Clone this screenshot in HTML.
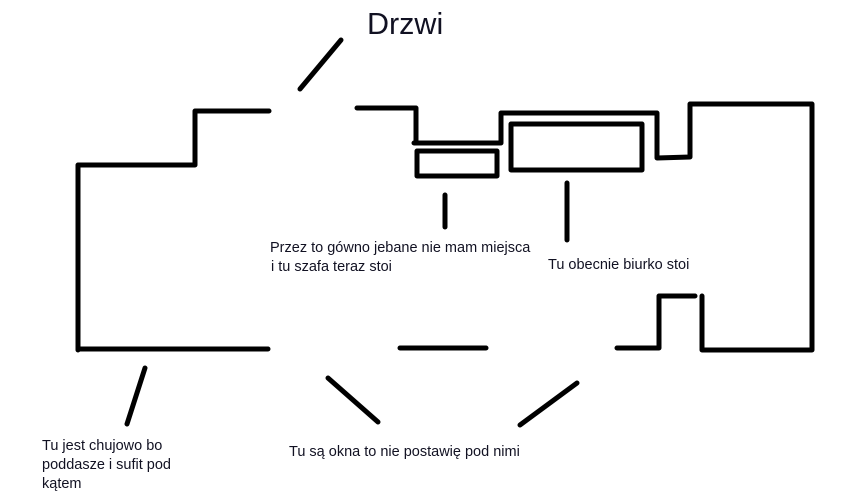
<!DOCTYPE html>
<html><head><meta charset="utf-8"><style>
body{margin:0;background:#fff;width:867px;height:500px;overflow:hidden}
svg{position:absolute;left:0;top:0}
text{font-family:"Liberation Sans",sans-serif;fill:#111122}
</style></head><body>
<svg width="867" height="500" viewBox="0 0 867 500">
<g stroke="#000" stroke-width="5" fill="none" stroke-linecap="round" stroke-linejoin="round">
<polyline points="78,350 78,165 195,165 195,111 269,111"/>
<polyline points="357,108 416,108 416,143 414,143 500,143"/>
<polyline points="501,143 501,113 657,113 657,158 690,157 690,104 812,104 812,350 702,350 702,296"/>
<polyline points="695,296 659,296 659,348 617,348"/>
<rect x="417" y="151" width="80" height="25"/>
<rect x="511" y="124" width="131" height="46"/>
<line x1="445" y1="195" x2="445" y2="227"/>
<line x1="567" y1="183" x2="567" y2="240"/>
<line x1="78" y1="349" x2="268" y2="349"/>
<line x1="400" y1="348" x2="486" y2="348"/>
<line x1="300" y1="89" x2="341" y2="40"/>
<line x1="145" y1="368" x2="127" y2="424"/>
<line x1="328" y1="378" x2="378" y2="422"/>
<line x1="577" y1="383" x2="520" y2="425"/>
</g>
<text x="367" y="34" font-size="30.5">Drzwi</text>
<text font-size="14.5"><tspan x="270" y="252">Przez to gówno jebane nie mam miejsca</tspan><tspan x="271" y="271">i tu szafa teraz stoi</tspan></text>
<text x="548" y="269" font-size="14.5">Tu obecnie biurko stoi</text>
<text font-size="14.5"><tspan x="42" y="450">Tu jest chujowo bo</tspan><tspan x="42" y="469">poddasze i sufit pod</tspan><tspan x="42" y="488">kątem</tspan></text>
<text x="289" y="456" font-size="14.5">Tu są okna to nie postawię pod nimi</text>
</svg>
</body></html>
